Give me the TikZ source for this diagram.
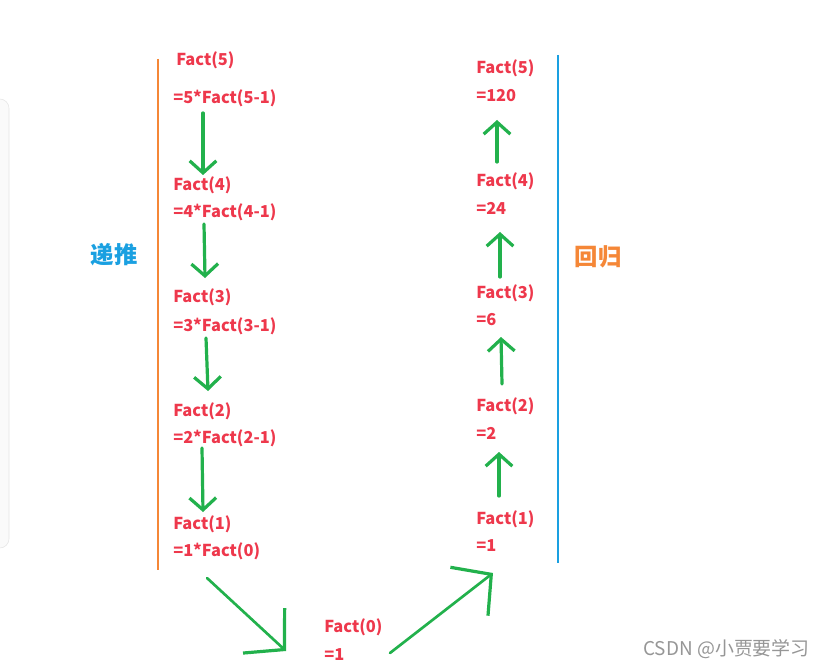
\documentclass[tikz,border=0pt]{standalone}
\usepackage{fontspec}
\newfontfamily\cjk{Noto Sans CJK SC}
\usetikzlibrary{arrows.meta,calc}
\definecolor{txtred}{RGB}{238,56,76}
\definecolor{lineorange}{RGB}{245,135,55}
\definecolor{lineblue}{RGB}{26,160,225}
\definecolor{arrgreen}{RGB}{34,177,76}
\definecolor{wmgray}{RGB}{150,150,150}
\tikzset{
  fact/.style={anchor=west,inner sep=0pt,text=txtred,font=\cjk\bfseries\fontsize{12.3pt}{14pt}\selectfont},
  side/.style={inner sep=0pt,font=\cjk\bfseries\fontsize{17.5pt}{20pt}\selectfont},
  garrow/.style={draw=arrgreen,line width=2.4pt,line cap=round,-{Straight Barb[length=9pt,width=20pt,line width=2.4pt]}},
  bigarrow/.style={draw=arrgreen,line width=2pt,line cap=round,-{Straight Barb[length=21pt,width=46pt,line width=2.4pt]}}
}
\begin{document}
\begin{tikzpicture}[x=0.75pt,y=-0.75pt]
\useasboundingbox (0,0) rectangle (824,670);
\fill[white] (0,0) rectangle (824,670);
% faint panel edge on the left
\begin{scope}
\clip (0,0) rectangle (824,670);
\draw[black!10,fill=black!2,rounded corners=7] (-20,99) rectangle (9,548);
\end{scope}
% vertical lines
\draw[lineorange,line width=1.8pt] (158,59) -- (158,570);
\draw[lineblue,line width=1.8pt] (558,55) -- (558,563);
% side labels
\node[side,text=lineblue] (ditui) at (114,255) {递推};
\node[side,text=lineorange] (huigui) at (598,257) {回归};
% left column
\node[fact] (f5) at (176,60) {Fact(5)};
\node[fact] (e5) at (173,98) {=5*Fact(5-1)};
\node[fact] (f4) at (173,185) {Fact(4)};
\node[fact] (e4) at (173,212) {=4*Fact(4-1)};
\node[fact] (f3) at (173,297) {Fact(3)};
\node[fact] (e3) at (173,326) {=3*Fact(3-1)};
\node[fact] (f2) at (173,411) {Fact(2)};
\node[fact] (e2) at (173,438) {=2*Fact(2-1)};
\node[fact] (f1) at (173,524) {Fact(1)};
\node[fact] (e1) at (173,551) {=1*Fact(0)};
% bottom
\node[fact] (f0) at (324,627) {Fact(0)};
\node[fact] (e0) at (324,655) {=1};
% right column
\node[fact] (r5) at (476,68) {Fact(5)};
\node[fact] (v5) at (476,96) {=120};
\node[fact] (r4) at (476,181) {Fact(4)};
\node[fact] (v4) at (476,208) {=24};
\node[fact] (r3) at (476,293) {Fact(3)};
\node[fact] (v3) at (476,320) {=6};
\node[fact] (r2) at (476,406) {Fact(2)};
\node[fact] (v2) at (476,433) {=2};
\node[fact] (r1) at (476,519) {Fact(1)};
\node[fact] (v1) at (476,546) {=1};
% watermark
\node[anchor=east,inner sep=0pt,text=wmgray,font=\cjk\fontsize{14.2pt}{16pt}\selectfont] (wm) at (810,649) {CSDN @小贾要学习};
% down arrows
\draw[garrow] ($(e5.west)+(30,15)$) -- ($(f4.west)+(30,-10)$);
\draw[garrow] ($(e4.west)+(31,12)$) -- ($(f3.west)+(32,-19)$);
\draw[garrow] ($(e3.west)+(33,12)$) -- ($(f2.west)+(35,-20)$);
\draw[garrow] ($(e2.west)+(29,10)$) -- ($(f1.west)+(30,-12)$);
% diagonal arrows
\draw[bigarrow] ($(e1.west)+(34,27)$) -- ($(e0.west)+(-38,-4)$);
\draw[bigarrow] ($(e0.west)+(66,-2)$) -- ($(v1.west)+(17,27)$);
% up arrows
\draw[garrow] ($(r4.west)+(21,-19)$) -- ($(v5.west)+(21,24)$);
\draw[garrow] ($(r3.west)+(24,-16)$) -- ($(v4.west)+(24,24)$);
\draw[garrow] ($(r2.west)+(26,-22)$) -- ($(v3.west)+(25,17)$);
\draw[garrow] ($(r1.west)+(23,-23)$) -- ($(v2.west)+(23,19)$);
\end{tikzpicture}
\end{document}
